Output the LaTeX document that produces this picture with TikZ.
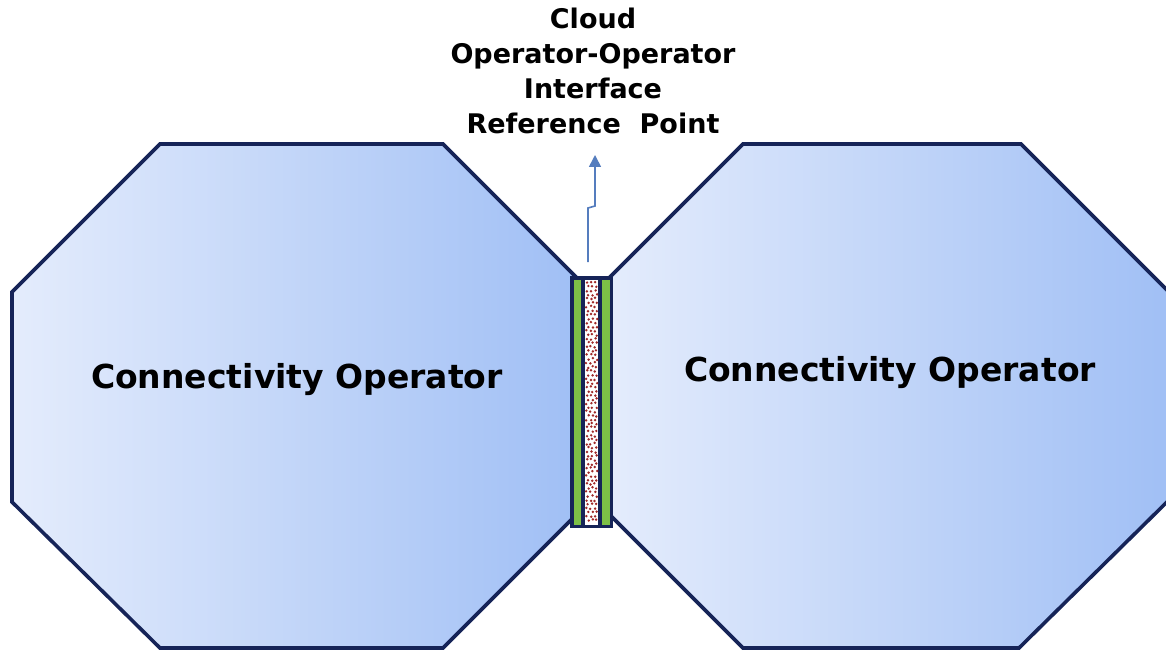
\documentclass[tikz,border=0pt]{standalone}
\usepackage{fontspec}
\setmainfont{DejaVu Sans}
\usetikzlibrary{arrows.meta}
\definecolor{edge}{RGB}{22,36,88}
\definecolor{fillL}{RGB}{228,236,252}
\definecolor{fillR}{RGB}{160,191,245}
\definecolor{strip}{RGB}{125,192,70}
\definecolor{dotc}{RGB}{160,40,40}
\definecolor{arrowc}{RGB}{85,125,190}
\begin{document}
\begin{tikzpicture}[x=1pt,y=-1pt,
  octa/.style={draw=edge,line width=3.6pt,line join=miter,left color=fillL,right color=fillR},
  label/.style={font=\fontsize{33}{40}\selectfont\bfseries,anchor=base,inner sep=0pt},
  titletext/.style={font=\fontsize{27}{35}\selectfont\bfseries,align=center,inner sep=0pt},
  pointer/.style={draw=arrowc,line width=1.6pt,-{Triangle[width=12pt,length=12pt]}}]
\useasboundingbox (0,0) rectangle (1166,652);
\clip (0,0) rectangle (1166,652);
% left octagon
\path[octa] (160,144) -- (443,144) -- (578,279) -- (578,513) -- (443,648) -- (160,648) -- (12,502) -- (12,292) -- cycle;
% right octagon
\path[octa] (743,144) -- (1021,144) -- (1172,295) -- (1172,497) -- (1019,648) -- (743,648) -- (608,513) -- (608,279) -- cycle;
% interface bar
\fill[edge] (570,276) rectangle (613,528);
\fill[strip] (573.5,279.5) rectangle (581,524.5);
\fill[strip] (601.5,279.5) rectangle (609.5,524.5);
\fill[white] (584.5,279.5) rectangle (598,524.5);
\pgfmathsetseed{11}
\foreach \r in {0,...,59} {
  \foreach \c in {0,1,2} {
    \pgfmathsetmacro\xx{586.6+\c*4.2+mod(\r,2)*1.6+rand*0.7}
    \pgfmathsetmacro\yy{282.5+\r*4.03+rand*1.0}
    \fill[dotc] (\xx,\yy) circle (1.35pt);
  }
}
% labels
\node[label] (leftop) at (297,388) {Connectivity Operator};
\node[label] (rightop) at (890,381) {Connectivity Operator};
\node[titletext,anchor=north] (title) at (593,8) {Cloud\\Operator-Operator\\Interface\\Reference\ \ Point};
% arrow
\coordinate (barTop) at (588,262);
\coordinate (bend1) at (588,208);
\coordinate (bend2) at (595,206);
\coordinate (tip) at (595,155);
\draw[pointer] (barTop) -- (bend1) -- (bend2) -- (tip);
\end{tikzpicture}
\end{document}
